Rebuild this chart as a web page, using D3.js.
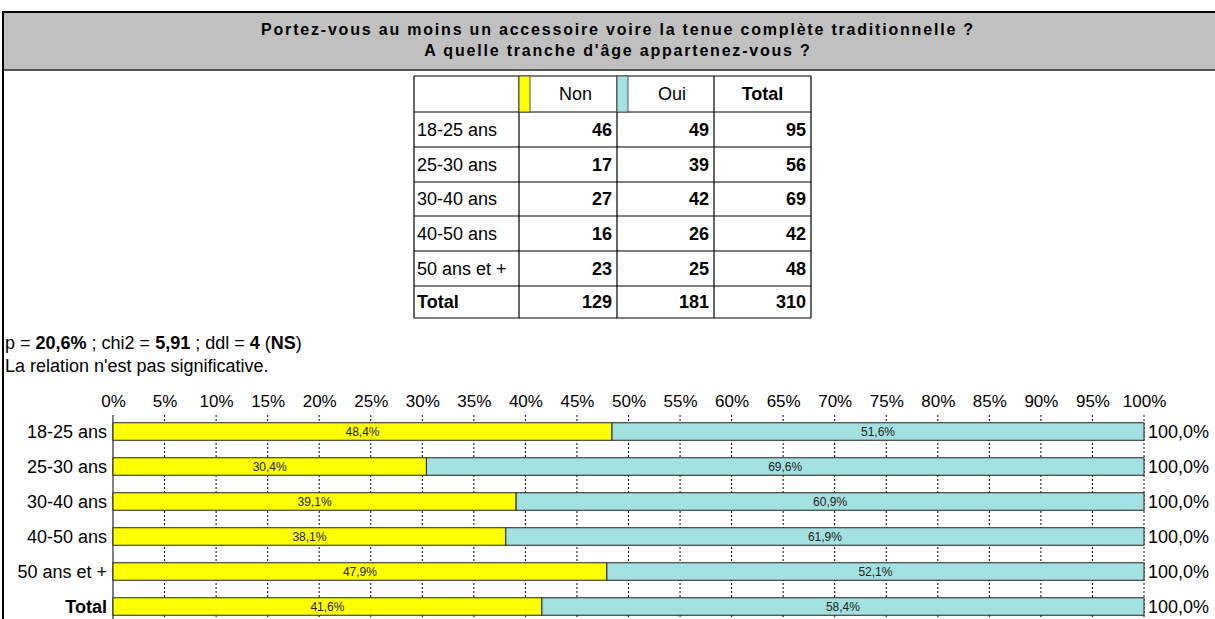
<!DOCTYPE html>
<html lang="fr">
<head>
  <meta charset="UTF-8">
  <title>tranche d'age</title>
  <style>
    body { margin: 0; background: #fff; }
    svg { display: block; font-family: Arial, "Liberation Sans", sans-serif; }
  </style>
</head>
<body>
<div id="chart"></div>
<script src="https://d3js.org/d3.v7.min.js"></script>
<script>
  const categories = ['18-25 ans', '25-30 ans', '30-40 ans', '40-50 ans', '50 ans et +', 'Total']
  const nonCounts = [46, 17, 27, 16, 23, 129]
  const ouiCounts = [49, 39, 42, 26, 25, 181]
  const totalCounts = [95, 56, 69, 42, 48, 310]
  const pctNon = [48.4, 30.4, 39.1, 38.1, 47.9, 41.6]
  const pctOui = [51.6, 69.6, 60.9, 61.9, 52.1, 58.4]
  const pctTicks = d3.range(0, 101, 5)

  const W = 1215, H = 619
  const yellow = '#ffff00', cyan = '#a3e0e0'
  const fs = '18px'

  const svg = d3.select('#chart').append('svg')
    .attr('width', W)
    .attr('height', H)

  // bandeau titre
  svg.append('rect').attr('x', 3).attr('y', 12).attr('width', W - 3).attr('height', 58)
    .attr('fill', '#c0c0c0')
  svg.append('line').attr('x1', 3).attr('x2', W).attr('y1', 12).attr('y2', 12)
    .attr('stroke', '#000').attr('stroke-width', 2)
  svg.append('line').attr('x1', 3).attr('x2', W).attr('y1', 70).attr('y2', 70)
    .attr('stroke', '#555').attr('stroke-width', 2)
  svg.append('line').attr('x1', 3).attr('x2', 3).attr('y1', 11).attr('y2', H)
    .attr('stroke', '#000').attr('stroke-width', 2)

  const titles = ['Portez-vous au moins un accessoire voire la tenue complète traditionnelle ?',
    "A quelle tranche d'âge appartenez-vous ?"]
  svg.selectAll('.title').data(titles).enter().append('text')
    .attr('class', 'title')
    .attr('x', 618)
    .attr('y', (d, i) => 35 + i * 21)
    .attr('text-anchor', 'middle')
    .attr('font-size', '16px')
    .attr('letter-spacing', '1.8px')
    .attr('font-weight', 'bold')
    .text(d => d)

  // tableau croise
  const colX = [414, 519, 617, 714, 811]
  const rowY = [76, 112, 147, 182, 216, 251, 286, 318]
  const tbl = svg.append('g')

  rowY.forEach(y => {
    tbl.append('line').attr('x1', colX[0]).attr('x2', colX[4]).attr('y1', y).attr('y2', y)
      .attr('stroke', '#000').attr('stroke-width', 1.2)
  })
  colX.forEach(x => {
    tbl.append('line').attr('x1', x).attr('x2', x).attr('y1', rowY[0]).attr('y2', rowY[7])
      .attr('stroke', '#000').attr('stroke-width', 1.2)
  })
  // petites cases couleur dans l'en-tete
  tbl.append('rect').attr('x', colX[1]).attr('y', rowY[0]).attr('width', 11).attr('height', rowY[1] - rowY[0])
    .attr('fill', yellow).attr('stroke', '#555').attr('stroke-width', 1)
  tbl.append('rect').attr('x', colX[2]).attr('y', rowY[0]).attr('width', 11).attr('height', rowY[1] - rowY[0])
    .attr('fill', cyan).attr('stroke', '#555').attr('stroke-width', 1)

  const headY = (rowY[0] + rowY[1]) / 2 + 6
  tbl.append('text').attr('x', (colX[1] + 11 + colX[2]) / 2 + 2).attr('y', headY)
    .attr('text-anchor', 'middle').attr('font-size', fs).text('Non')
  tbl.append('text').attr('x', (colX[2] + 11 + colX[3]) / 2 + 1).attr('y', headY)
    .attr('text-anchor', 'middle').attr('font-size', fs).text('Oui')
  tbl.append('text').attr('x', (colX[3] + colX[4]) / 2).attr('y', headY)
    .attr('text-anchor', 'middle').attr('font-size', fs).attr('font-weight', 'bold').text('Total')

  categories.forEach((c, i) => {
    const cy = (rowY[i + 1] + rowY[i + 2]) / 2 + 6
    tbl.append('text').attr('x', colX[0] + 3).attr('y', cy).attr('font-size', fs)
      .attr('font-weight', c === 'Total' ? 'bold' : 'normal').text(c)
    const vals = [nonCounts[i], ouiCounts[i], totalCounts[i]]
    vals.forEach((v, j) => {
      tbl.append('text').attr('x', colX[j + 2] - 5).attr('y', cy)
        .attr('text-anchor', 'end').attr('font-size', fs).attr('font-weight', 'bold').text(v)
    })
  })

  // statistiques
  const stat = svg.append('text').attr('x', 5).attr('y', 349).attr('font-size', fs)
  const parts = [['p = ', false], ['20,6%', true], [' ; chi2 = ', false], ['5,91', true],
    [' ; ddl = ', false], ['4', true], [' (', false], ['NS', true], [')', false]]
  parts.forEach(p => {
    stat.append('tspan').attr('font-weight', p[1] ? 'bold' : 'normal').text(p[0])
  })
  svg.append('text').attr('x', 5).attr('y', 372).attr('font-size', fs)
    .text("La relation n'est pas significative.")

  // barres empilees
  const x = d3.scaleLinear().domain([0, 100]).range([113, 1144])
  const y = d3.scaleBand().domain(categories).range([414, 624]).paddingInner(0.5).paddingOuter(0.25)

  // pointilles verticaux
  svg.selectAll('.grid').data(pctTicks.filter(d => d > 0)).enter().append('line')
    .attr('class', 'grid')
    .attr('x1', d => x(d)).attr('x2', d => x(d))
    .attr('y1', 415).attr('y2', H)
    .attr('stroke', '#000').attr('stroke-width', 1).attr('stroke-dasharray', '2,2')
  svg.append('line').attr('x1', x(0)).attr('x2', x(0)).attr('y1', 415).attr('y2', H)
    .attr('stroke', '#000').attr('stroke-width', 1)

  const xAxis = d3.axisTop(x).tickValues(pctTicks).tickFormat(d => d + '%').tickSize(0)
  const ax = svg.append('g').attr('transform', 'translate(0,410)').call(xAxis)
  ax.select('.domain').remove()
  ax.selectAll('text').attr('font-size', '17px').attr('font-family', 'Arial, "Liberation Sans", sans-serif')
    .attr('fill', '#000').attr('dy', '0')

  const rows = svg.selectAll('.row').data(categories).enter().append('g').attr('class', 'row')

  rows.append('rect')
    .attr('x', x(0))
    .attr('y', d => y(d))
    .attr('width', (d, i) => x(pctNon[i]) - x(0))
    .attr('height', y.bandwidth())
    .attr('fill', yellow).attr('stroke', '#222').attr('stroke-width', 1)
  rows.append('rect')
    .attr('x', (d, i) => x(pctNon[i]))
    .attr('y', d => y(d))
    .attr('width', (d, i) => x(100) - x(pctNon[i]))
    .attr('height', y.bandwidth())
    .attr('fill', cyan).attr('stroke', '#222').attr('stroke-width', 1)

  const fmt = v => v.toFixed(1).replace('.', ',') + '%'
  rows.append('text')
    .attr('x', (d, i) => (x(0) + x(pctNon[i])) / 2)
    .attr('y', d => y(d) + y.bandwidth() / 2 + 4)
    .attr('text-anchor', 'middle').attr('font-size', '12px').attr('fill', '#222')
    .text((d, i) => fmt(pctNon[i]))
  rows.append('text')
    .attr('x', (d, i) => (x(pctNon[i]) + x(100)) / 2)
    .attr('y', d => y(d) + y.bandwidth() / 2 + 4)
    .attr('text-anchor', 'middle').attr('font-size', '12px').attr('fill', '#222')
    .text((d, i) => fmt(pctOui[i]))
  rows.append('text')
    .attr('x', x(100) + 4)
    .attr('y', d => y(d) + y.bandwidth() / 2 + 6)
    .attr('font-size', fs)
    .text((d, i) => fmt(pctNon[i] + pctOui[i]))
  rows.append('text')
    .attr('x', x(0) - 6)
    .attr('y', d => y(d) + y.bandwidth() / 2 + 6)
    .attr('text-anchor', 'end').attr('font-size', fs)
    .attr('font-weight', d => d === 'Total' ? 'bold' : 'normal')
    .text(d => d)
</script>
</body>
</html>
